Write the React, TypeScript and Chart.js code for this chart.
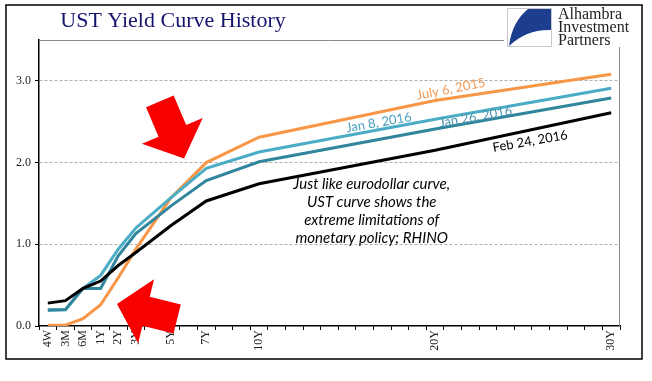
import React, { useEffect, useRef } from "react";
import { Chart, registerables } from "chart.js";

Chart.register(...registerables);

// ---- data ----
const tenorLabels = ["4W", "3M", "6M", "1Y", "2Y", "3Y", "5Y", "7Y", "10Y", "20Y", "30Y"];
// slot on the category-like axis (one slot per year beyond 3Y)
const tenorSlots = [0, 1, 2, 3, 4, 5, 7, 9, 12, 22, 32];

const feb24_2016 = [0.28, 0.31, 0.46, 0.55, 0.74, 0.9, 1.23, 1.53, 1.74, 2.15, 2.61];
const jan26_2016 = [0.2, 0.2, 0.46, 0.46, 0.86, 1.13, 1.47, 1.78, 2.01, 2.41, 2.79];
const jan8_2016 = [0.19, 0.2, 0.46, 0.62, 0.94, 1.2, 1.57, 1.93, 2.13, 2.53, 2.91];
const jul6_2015 = [0.01, 0.01, 0.09, 0.26, 0.59, 0.94, 1.57, 2.0, 2.31, 2.76, 3.08];

const yTicks = [0, 1, 2, 3];

const seriesNames = ["Feb 24, 2016", "Jan 26, 2016", "Jan 8, 2016", "July 6, 2015"];
const seriesColors = ["#000000", "#31859c", "#4bacc6", "#f79646"];
const seriesValues = [feb24_2016, jan26_2016, jan8_2016, jul6_2015];

// label placement in data units: [slot, yield, angleDeg]
const seriesLabelPos: [number, number, number][] = [
  [27.4, 2.26, -10],
  [24.3, 2.56, -10],
  [18.8, 2.49, -10],
  [22.9, 2.9, -11],
];
const seriesLabelColors = ["#000000", "#4a94ad", "#4a9ec0", "#f29a55"];

const noteLines = [
  "Just like eurodollar curve,",
  "UST curve shows the",
  "extreme limitations of",
  "monetary policy; RHINO",
];
const noteCenter: [number, number] = [18.4, 1.73];

const titleText = "UST Yield Curve History";
const logoLines = ["Alhambra", "Investment", "Partners"];

// arrows: tip in data units + direction
const arrows: { slot: number; y: number; angle: number }[] = [
  { slot: 7.74, y: 2.05, angle: 67 },
  { slot: 3.93, y: 0.27, angle: 194 },
];

function drawArrow(ctx: CanvasRenderingContext2D, tx: number, ty: number, angDeg: number) {
  const a = (angDeg * Math.PI) / 180;
  const dx = Math.cos(a), dy = Math.sin(a);
  const px = -dy, py = dx;
  const headLen = 30, headHalf = 33, shaftHalf = 15, shaftLen = 32;
  const bx = tx - dx * headLen, by = ty - dy * headLen;
  const ex = bx - dx * shaftLen, ey = by - dy * shaftLen;
  ctx.beginPath();
  ctx.moveTo(tx, ty);
  ctx.lineTo(bx + px * headHalf, by + py * headHalf);
  ctx.lineTo(bx + px * shaftHalf, by + py * shaftHalf);
  ctx.lineTo(ex + px * shaftHalf, ey + py * shaftHalf);
  ctx.lineTo(ex - px * shaftHalf, ey - py * shaftHalf);
  ctx.lineTo(bx - px * shaftHalf, by - py * shaftHalf);
  ctx.lineTo(bx - px * headHalf, by - py * headHalf);
  ctx.closePath();
  ctx.fillStyle = "#f80000";
  ctx.fill();
}

const overlay = {
  id: "overlay",
  beforeDraw(chart: any) {
    const ctx = chart.ctx;
    ctx.save();
    ctx.fillStyle = "#ffffff";
    ctx.fillRect(0, 0, chart.width, chart.height);
    ctx.restore();
  },
  beforeDatasetsDraw(chart: any) {
    const { ctx, chartArea } = chart;
    const { left, right, top, bottom } = chartArea;
    ctx.save();
    ctx.strokeStyle = "#8a8a8a";
    ctx.lineWidth = 1;
    ctx.beginPath();
    ctx.moveTo(left, top + 0.5);
    ctx.lineTo(right, top + 0.5);
    ctx.moveTo(right - 0.5, top);
    ctx.lineTo(right - 0.5, bottom);
    ctx.stroke();
    ctx.restore();
  },
  afterDraw(chart: any) {
    const { ctx } = chart;
    const xs = chart.scales.x, ys = chart.scales.y;
    ctx.save();

    // series labels
    ctx.font = "13px Lato";
    ctx.textAlign = "center";
    ctx.textBaseline = "middle";
    seriesNames.forEach((name, i) => {
      const [sx, sy, ang] = seriesLabelPos[i];
      const px = xs.getPixelForValue(sx), py = ys.getPixelForValue(sy);
      ctx.save();
      ctx.translate(px, py);
      ctx.rotate((ang * Math.PI) / 180);
      ctx.fillStyle = seriesLabelColors[i];
      ctx.fillText(name, 0, 0);
      ctx.restore();
    });

    // note text
    ctx.font = "italic 15px Lato";
    ctx.fillStyle = "#000";
    const nx = xs.getPixelForValue(noteCenter[0]);
    const ny = ys.getPixelForValue(noteCenter[1]);
    noteLines.forEach((l, i) => ctx.fillText(l, nx, ny + i * 18));

    // arrows
    arrows.forEach((a) => drawArrow(ctx, xs.getPixelForValue(a.slot), ys.getPixelForValue(a.y), a.angle));

    // logo area
    ctx.fillStyle = "#fff";
    ctx.fillRect(504, 7, 137, 40);
    ctx.strokeStyle = "#c8c8c8";
    ctx.lineWidth = 1;
    ctx.strokeRect(507.5, 8.5, 44, 38);
    ctx.fillStyle = "#1d3e8e";
    ctx.beginPath();
    ctx.moveTo(528, 9);
    ctx.lineTo(551, 9);
    ctx.lineTo(551, 30);
    ctx.quadraticCurveTo(527, 29, 509, 46);
    ctx.quadraticCurveTo(512, 22, 528, 9);
    ctx.closePath();
    ctx.fill();
    ctx.font = "16px 'Liberation Serif'";
    ctx.textAlign = "left";
    ctx.textBaseline = "alphabetic";
    ctx.fillStyle = "#222";
    logoLines.forEach((l, i) => ctx.fillText(l, 558, 19 + i * 13));

    // title
    ctx.font = "22px 'Liberation Serif'";
    ctx.textAlign = "center";
    ctx.fillStyle = "#14146e";
    ctx.fillText(titleText, 173, 27);

    // outer frame
    ctx.strokeStyle = "#000";
    ctx.lineWidth = 1.5;
    ctx.strokeRect(6, 5, 636, 354);
    ctx.restore();
  },
};

export default function App() {
  const ref = useRef<HTMLCanvasElement>(null);
  useEffect(() => {
    const labelBySlot: Record<number, string> = {};
    tenorSlots.forEach((s, i) => (labelBySlot[s] = tenorLabels[i]));
    const chart = new Chart(ref.current!, {
      type: "line",
      data: {
        datasets: seriesNames.map((name, i) => ({
          label: name,
          data: tenorSlots.map((s, j) => ({ x: s, y: seriesValues[i][j] })),
          borderColor: seriesColors[i],
          backgroundColor: seriesColors[i],
          borderWidth: 3,
          pointRadius: 0,
          tension: 0,
          fill: false,
        })),
      },
      options: {
        responsive: false,
        devicePixelRatio: 1,
        animation: false,
        layout: { padding: { left: 6, top: 40, right: 32, bottom: 25 } },
        plugins: { legend: { display: false }, tooltip: { enabled: false }, title: { display: false } },
        scales: {
          x: {
            type: "linear",
            min: -0.5,
            max: 32.5,
            afterBuildTicks: (scale: any) => {
              scale.ticks = Array.from({ length: 33 }, (_, i) => ({ value: i }));
            },
            afterFit: (scale: any) => {
              scale.height = 30;
            },
            ticks: {
              autoSkip: false,
              maxRotation: 90,
              minRotation: 90,
              padding: 0,
              color: "#222",
              font: { family: "'Liberation Serif'", size: 12 },
              callback: (v: any) => labelBySlot[v] ?? "",
            },
            grid: {
              offset: true,
              drawOnChartArea: false,
              drawTicks: true,
              tickLength: 4,
              tickColor: "#000",
              color: "#000",
            },
            border: { color: "#000", width: 1.5 },
          },
          y: {
            type: "linear",
            min: 0,
            max: 3.5,
            afterBuildTicks: (scale: any) => {
              scale.ticks = yTicks.map((v) => ({ value: v }));
            },
            afterFit: (scale: any) => {
              scale.width = 33;
            },
            ticks: {
              padding: 4,
              color: "#222",
              font: { family: "'Liberation Serif'", size: 12 },
              callback: (v: any) => Number(v).toFixed(1),
            },
            grid: {
              color: (c: any) => (c.tick && c.tick.value === 0 ? "rgba(0,0,0,0)" : "#b0b0b0"),
              tickColor: "#000",
              tickLength: 4,
              tickBorderDash: [],
              lineWidth: 1,
            },
            border: { color: "#000", width: 1.5, dash: [3, 2] },
          },
        },
      },
      plugins: [overlay],
    } as any);
    return () => chart.destroy();
  }, []);
  return (
    <div style={{ position: "absolute", left: 0, top: 0, width: 652, height: 381, background: "#fff" }}>
      <canvas ref={ref} width={652} height={381} style={{ display: "block", width: 652, height: 381 }} />
    </div>
  );
}
